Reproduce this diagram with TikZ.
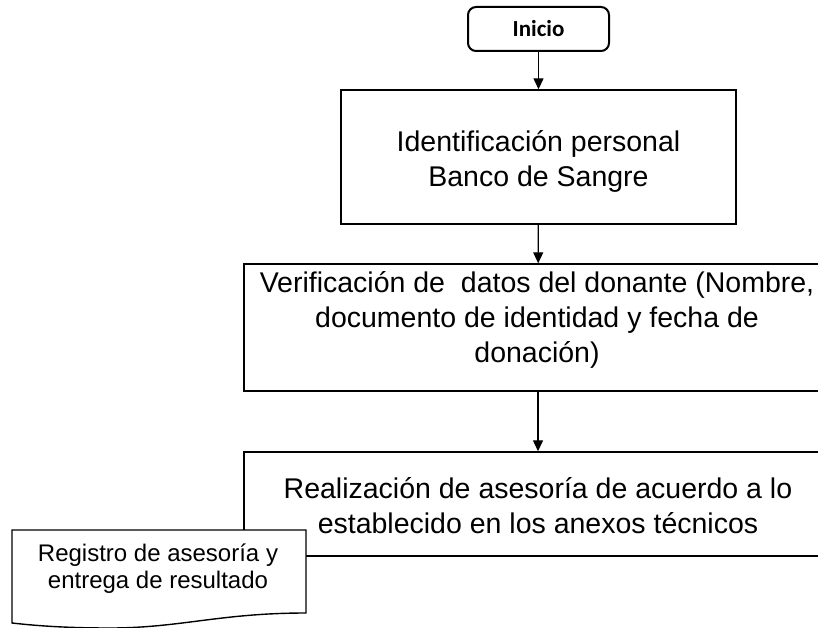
\documentclass[tikz,border=0pt]{standalone}
\usepackage{fontspec}
\setmainfont{Liberation Sans}
\newfontfamily\calib{Carlito}
\usetikzlibrary{arrows.meta}
\tikzset{
  boxstyle/.style={draw=black, line width=1.4pt, fill=white, inner sep=0pt},
  arr/.style={line width=1.3pt, -{Triangle[length=11pt,width=10pt]}},
  maintext/.style={align=center, inner sep=0pt, font=\fontsize{28.5}{35}\selectfont},
}
\begin{document}
\begin{tikzpicture}[x=1pt,y=-1pt]
\useasboundingbox (0,0) rectangle (818,628);
\clip (0,0) rectangle (818,628);
% Inicio
\node[draw=black, line width=2pt, rounded corners=8pt, fill=white,
      minimum width=141pt, minimum height=44pt, inner sep=0pt,
      font=\calib\bfseries\fontsize{23}{26}\selectfont] (ini) at (538.5,29) {Inicio};
% Identificacion
\node[boxstyle, minimum width=395pt, minimum height=134pt] (ide) at (538.5,157) {};
\node[maintext] (idet) at (538.5,161) {Identificación personal\\Banco de Sangre};
% Verificacion
\node[boxstyle, minimum width=588pt, minimum height=127pt] (ver) at (538,327.5) {};
\node[maintext] (vert) at (537,320) {Verificación de\ \ datos del donante (Nombre,\\documento de identidad y fecha de\\donación)};
% Realizacion
\node[boxstyle, minimum width=588pt, minimum height=104pt] (rea) at (538,504) {};
\node[maintext] (reat) at (538,506) {Realización de asesoría de acuerdo a lo\\establecido en los anexos técnicos};
% Document
\draw[line width=1.4pt, fill=white] (12,530) -- (306,530) -- (306,613)
  .. controls (220,613) and (180,628) .. (110,628)
  .. controls (60,628) and (30,625) .. (12,623) -- cycle;
\node[align=center, inner sep=0pt, font=\fontsize{24}{27}\selectfont] (doc) at (158,569) {Registro de asesoría y\\entrega de resultado};
% arrows
\draw[arr] (ini) -- (ide);
\draw[arr] (ide) -- (ver);
\draw[arr] (ver) -- (rea);
\end{tikzpicture}
\end{document}
